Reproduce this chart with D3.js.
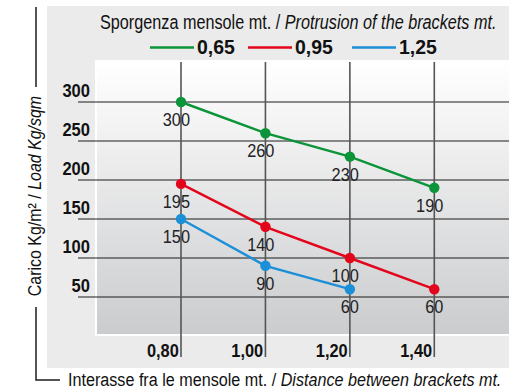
<!DOCTYPE html>
<html>
<head>
<meta charset="utf-8">
<script src="https://cdn.jsdelivr.net/npm/d3@7"></script>
<style>
  html, body { margin: 0; padding: 0; background: #fff; }
  svg { display: block; }
  text { font-family: "Liberation Sans", Arial, sans-serif; }
  .bold { font-weight: bold; }
</style>
</head>
<body>
<svg id="chart" width="509" height="390"></svg>
<script>
// Bracket spacing (m) on the x axis
const spacings = [0.80, 1.00, 1.20, 1.40];
const spacingLabels = ["0,80", "1,00", "1,20", "1,40"];
// Load ticks (kg/m²)
const loadTicks = [50, 100, 150, 200, 250, 300];
// Load per bracket protrusion
const load065 = [300, 260, 230, 190];
const load095 = [195, 140, 100, 60];
const load125 = [150, 90, 60];
const seriesNames = ["0,65", "0,95", "1,25"];
const seriesColors = ["#0b9439", "#e3051b", "#1b8fd8"];

const series = [load065, load095, load125].map((vals, i) => ({
  name: seriesNames[i],
  color: seriesColors[i],
  points: vals.map((v, j) => ({ x: spacings[j], y: v }))
}));

const svg = d3.select("#chart");

const x = d3.scaleLinear().domain([0.8, 1.4]).range([181, 434.3]);
const y = d3.scaleLinear().domain([50, 300]).range([297, 102]);

// Condensed text: a regular face squeezed horizontally around its anchor
function condensed(parent, px, py, size, k, extra = "") {
  return parent.append("text")
    .attr("transform", `translate(${px},${py}) ${extra} scale(${k},1)`)
    .attr("font-size", size)
    .attr("fill", "#111");
}

// Background panels
const defs = svg.append("defs");
const grad = defs.append("linearGradient").attr("id", "plotGrad")
  .attr("x1", 0).attr("y1", 0).attr("x2", 0).attr("y2", 1);
grad.append("stop").attr("offset", "0%").attr("stop-color", "#ffffff");
grad.append("stop").attr("offset", "100%").attr("stop-color", "#cbccce");

svg.append("rect").attr("x", 47).attr("y", 6).attr("width", 462).attr("height", 362)
  .attr("fill", "#ebebeb");
svg.append("rect").attr("x", 95).attr("y", 60).attr("width", 414).attr("height", 276)
  .attr("fill", "#ffffff");
svg.append("rect").attr("x", 97).attr("y", 61).attr("width", 412).attr("height", 273)
  .attr("fill", "url(#plotGrad)");

// Horizontal grid lines with labels
svg.selectAll("line.grid").data(loadTicks).join("line")
  .attr("class", "grid")
  .attr("x1", 78).attr("x2", 509)
  .attr("y1", d => y(d)).attr("y2", d => y(d))
  .attr("stroke", "#1c1c1c").attr("stroke-width", 1.2);
const yAxis = d3.axisLeft(y).tickValues(loadTicks).tickSize(0).tickFormat(d3.format("d"));
const gyAxis = svg.append("g").attr("transform", "translate(90,0)").call(yAxis);
gyAxis.select(".domain").remove();
gyAxis.selectAll("text")
  .attr("class", "bold")
  .attr("x", 0).attr("dy", null)
  .attr("y", -6)
  .attr("transform", "scale(0.92,1)")
  .attr("text-anchor", "end")
  .attr("font-size", 18)
  .attr("fill", "#111");

// Vertical lines with labels
svg.selectAll("line.vgrid").data(spacings).join("line")
  .attr("class", "vgrid")
  .attr("x1", d => x(d)).attr("x2", d => x(d))
  .attr("y1", 62).attr("y2", 357)
  .attr("stroke", "#555").attr("stroke-width", 1.6);
const xAxis = d3.axisBottom(x).tickValues(spacings).tickSize(0)
  .tickFormat((d, i) => spacingLabels[i]);
const gxAxis = svg.append("g").attr("transform", "translate(0,357)").call(xAxis);
gxAxis.select(".domain").remove();
gxAxis.selectAll("text")
  .attr("class", "bold")
  .attr("x", -3).attr("y", 0).attr("dy", null)
  .attr("transform", "scale(0.91,1)")
  .attr("text-anchor", "end")
  .attr("font-size", 18)
  .attr("fill", "#111");

// Series lines, dots and value labels
const line = d3.line().x(d => x(d.x)).y(d => y(d.y));
const gs = svg.append("g");
series.forEach(s => {
  gs.append("path").datum(s.points)
    .attr("d", line).attr("fill", "none")
    .attr("stroke", s.color).attr("stroke-width", 2.4);
  gs.selectAll(null).data(s.points).join("circle")
    .attr("cx", d => x(d.x)).attr("cy", d => y(d.y)).attr("r", 5.2)
    .attr("fill", s.color);
});
series.forEach(s => {
  s.points.forEach(p => {
    condensed(gs, x(p.x) + 9, y(p.y) + 24, 19, 0.86)
      .attr("text-anchor", "end")
      .attr("fill", "#222")
      .text(p.y);
  });
});

// Legend
const title = condensed(svg, 100, 29, 19.5, 0.832);
title.append("tspan").text("Sporgenza mensole mt. / ");
title.append("tspan").attr("font-style", "italic").text("Protrusion of the brackets mt.");

const legendX = [150, 248, 352];
const lg = svg.append("g");
series.forEach((s, i) => {
  lg.append("line")
    .attr("x1", legendX[i]).attr("x2", legendX[i] + 44)
    .attr("y1", 47.5).attr("y2", 47.5)
    .attr("stroke", s.color).attr("stroke-width", 2.4);
  condensed(lg, legendX[i] + 47, 53.5, 20.5, 0.95)
    .attr("class", "bold")
    .text(s.name);
});

// Axis titles
const yTitle = condensed(svg, 41, 196, 19, 0.84, "rotate(-90)")
  .attr("text-anchor", "middle");
yTitle.append("tspan").text("Carico Kg/m² / ");
yTitle.append("tspan").attr("font-style", "italic").text("Load Kg/sqm");

const xTitle = condensed(svg, 68, 386, 19, 0.85);
xTitle.append("tspan").text("Interasse fra le mensole mt. / ");
xTitle.append("tspan").attr("font-style", "italic").text("Distance between brackets mt.");

// Bracket strokes around the y title
svg.append("path")
  .attr("d", "M36,7V87M36,307V380H60")
  .attr("fill", "none").attr("stroke", "#1c1c1c").attr("stroke-width", 1.5);
</script>
</body>
</html>
